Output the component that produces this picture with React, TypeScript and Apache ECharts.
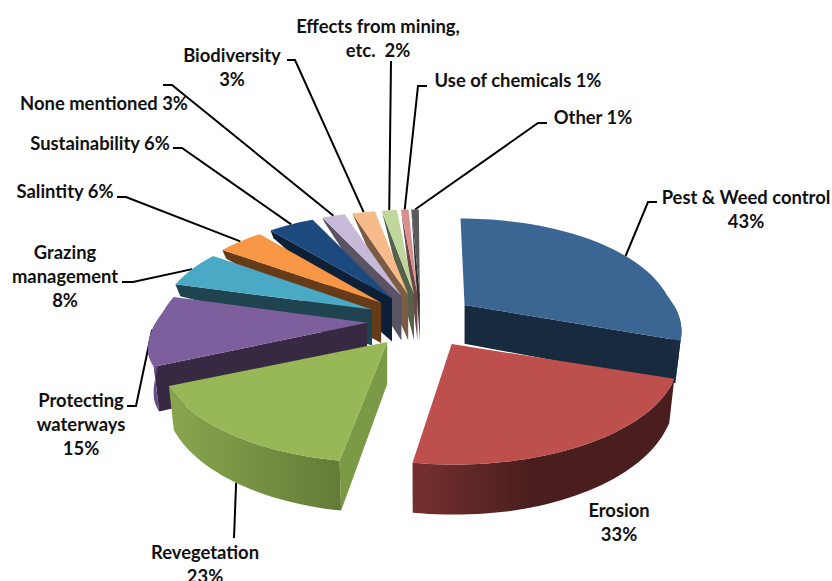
import React, { useEffect, useRef } from "react";
import * as echarts from "echarts";

// Survey responses, in clockwise order from twelve o'clock
const categories = [
  "Pest & Weed control", "Erosion", "Revegetation", "Protecting waterways",
  "Grazing management", "Salintity", "Sustainability", "None mentioned",
  "Biodiversity", "Effects from mining, etc.", "Use of chemicals", "Other",
];
const values = [43, 33, 23, 15, 8, 6, 6, 3, 3, 2, 1, 1];
const labelTemplates = [
  "Pest & Weed control\n{v}%", "Erosion\n{v}%", "Revegetation\n{v}%", "Protecting\nwaterways\n{v}%",
  "Grazing\nmanagement\n{v}%", "Salintity {v}%", "Sustainability {v}%", "None mentioned {v}%",
  "Biodiversity\n{v}%", "Effects from mining,\netc.  {v}%", "Use of chemicals {v}%", "Other {v}%",
];

// Slice colours: top face, cut face, outer wall gradient (left, right)
const topColors = ["#3b6593", "#bd4f4c", "#98b857", "#7d5f9e", "#4aa9c5", "#f79644", "#1d4a7e", "#c6bad8", "#f7bb8a", "#c0d69c", "#d88f8e", "#5a5a5a"];
const cutColors = ["#182a3e", "#4d2020", "#7a9a46", "#382942", "#1f444f", "#683b18", "#0c2138", "#5a5363", "#7b5b43", "#55614a", "#6e4746", "#2d2d2d"];
const wallLeft = ["#1b2f45", "#75302e", "#89a64e", "#75589a", "#1f444f", "#683b18", "#0c2138", "#5a5363", "#7b5b43", "#55614a", "#6e4746", "#2d2d2d"];
const wallRight = ["#182a3e", "#4a1e1e", "#627c38", "#5c4680", "#1f444f", "#683b18", "#0c2138", "#5a5363", "#7b5b43", "#55614a", "#6e4746", "#2d2d2d"];

// Label anchors (centre of the first line) and leader elbows
const labelAnchors = [
  [746, 197], [619, 510], [205, 552], [81, 400], [65, 252], [65, 191],
  [100, 143], [104, 103], [232, 55], [378, 26], [518, 80], [593, 117],
];
const leaderElbows: number[][][] = [
  [[657, 202], [648, 202]], [], [[234, 538]], [[127, 406], [136, 406]],
  [[122, 282], [133, 282]], [[117, 197], [126, 197]], [[173, 148], [182, 148]],
  [[163, 85], [172, 85]], [[287, 60], [295, 60]], [[391, 61]],
  [[427, 86], [418, 86]], [[547, 123], [538, 123]],
];
// Leaders meet the rim at the slice's middle, give or take these degrees
const leaderAngleOffsets = [5, 0, 0, 0, 0, 0, 0, 0, 0, 0, 0, 0];

// Projection of the tilted pie onto the page
const CX = 421;
const CY = 321;
const EXPLODE = 54;
const TILT = 0.5;
const TO_RAD = Math.PI / 180;
// Wall height of the outer rim against the page y of its top edge
const RIM_DEPTH = [[205, 1], [231, 8], [251, 9], [285, 12], [336, 42], [363, 45], [385, 44], [461, 50], [520, 50]];

const total = values.reduce((a, b) => a + b, 0);
const startAngles = values.map((_, i) => (values.slice(0, i).reduce((a, b) => a + b, 0) / total) * 360);
const endAngles = startAngles.map((s, i) => s + (values[i] / total) * 360);
const midAngles = startAngles.map((s, i) => (s + endAngles[i]) / 2);
// Back slices are painted first so the nearer ones overlap them
const paintOrder = values.map((_, i) => i).sort((a, b) => Math.cos(midAngles[b] * TO_RAD) - Math.cos(midAngles[a] * TO_RAD));

const radiusAt = (deg: number) => {
  const c = Math.cos(deg * TO_RAD);
  const s = Math.sin(deg * TO_RAD);
  const side = Math.min(1, Math.max(0, (0.1 - c) / 0.4));
  return 208 - 33 * c + 11 * side * s * s + (s > 0 ? 3 * s * s : 0);
};
const apexOf = (i: number) => {
  const m = midAngles[i] * TO_RAD;
  const c = Math.cos(m);
  const s = Math.sin(m);
  const nudge = c < 0 && s > 0 ? -6 * c * s : 0;
  return [CX + EXPLODE * s + nudge, CY - EXPLODE * TILT * c];
};
// Perspective pushes the rim of front slices outward and pulls back ones in
const rimShift = (i: number) => {
  const m = midAngles[i] * TO_RAD;
  const c = Math.cos(m);
  const s = Math.sin(m);
  if (c < 0) return [-12 * s * c - (s > 0 ? -6 * c * s : 0), 0];
  return [-4 * Math.min(1, c * 2.5) * Math.min(1, Math.abs(s) * 2 + 0.2), 3 * c * c];
};
const rimPoint = (i: number, deg: number) => {
  const a = apexOf(i);
  const shift = rimShift(i);
  const r = radiusAt(deg);
  return [a[0] + shift[0] + r * Math.sin(deg * TO_RAD), a[1] + shift[1] - r * TILT * Math.cos(deg * TO_RAD)];
};
const rimDepth = (y: number) => {
  for (let k = 1; k < RIM_DEPTH.length; k++) {
    if (y <= RIM_DEPTH[k][0]) {
      const [y0, d0] = RIM_DEPTH[k - 1];
      const [y1, d1] = RIM_DEPTH[k];
      return d0 + ((d1 - d0) * Math.max(0, y - y0)) / (y1 - y0);
    }
  }
  return 50;
};
const apexDepth = (i: number) => {
  const c = Math.cos(midAngles[i] * TO_RAD);
  return c > 0.3 ? 28 + 18 * c : 42;
};
const dropRim = (p: number[]) => [p[0] - 0.02 * (p[0] - CX), p[1] + rimDepth(p[1])];
const arcSamples = (i: number, from: number, to: number) => {
  const steps = Math.max(2, Math.ceil((to - from) / 2));
  const pts: number[][] = [];
  for (let k = 0; k <= steps; k++) pts.push(rimPoint(i, from + ((to - from) * k) / steps));
  return pts;
};

const cutFace = (i: number, deg: number) => {
  const a = apexOf(i);
  const p = rimPoint(i, deg);
  return {
    type: "polygon",
    shape: { points: [a, p, dropRim(p), [a[0], a[1] + apexDepth(i)]] },
    style: { fill: cutColors[i] },
  };
};

const renderSlice = (params: any) => {
  const i = paintOrder[params.dataIndex];
  const s = startAngles[i];
  const e = endAngles[i];
  const children: any[] = [];
  if (Math.sin(s * TO_RAD) < -1e-6) children.push(cutFace(i, s));
  if (Math.sin(e * TO_RAD) > 1e-6) children.push(cutFace(i, e));
  // The rim is only seen where it faces the front of the pie
  const wallFrom = Math.max(s, 90);
  const wallTo = Math.min(e, 270);
  if (wallTo > wallFrom) {
    const top = arcSamples(i, wallFrom, wallTo);
    children.push({
      type: "polygon",
      shape: { points: [...top, ...top.map(dropRim).reverse()] },
      style: {
        fill: {
          type: "linear", x: 0, y: 0, x2: 1, y2: 0,
          colorStops: i === 1
            ? [{ offset: 0, color: wallLeft[i] }, { offset: 0.45, color: wallRight[i] }, { offset: 1, color: wallRight[i] }]
            : [{ offset: 0, color: wallLeft[i] }, { offset: 1, color: wallRight[i] }],
        },
      },
    });
  }
  children.push({
    type: "polygon",
    shape: { points: [apexOf(i), ...arcSamples(i, s, e)] },
    style: { fill: topColors[i] },
  });
  return { type: "group", children };
};

// Leaders run from the elbow to the slice's rim
const leaderEnd = (i: number) => {
  const p = rimPoint(i, midAngles[i] + leaderAngleOffsets[i]);
  const front = Math.cos(midAngles[i] * TO_RAD) < -0.5;
  return front ? dropRim(p) : p;
};

const labelFont = { fontFamily: "Lato", fontWeight: "bold" as const, fontSize: 18.4, lineHeight: 24 };

export default function App() {
  const ref = useRef<HTMLDivElement>(null);
  useEffect(() => {
    document.body.style.margin = "0";
    const chart = echarts.init(ref.current!, undefined, { renderer: "svg" });
    const leaders = values.flatMap((_, i) =>
      leaderElbows[i].length
        ? [{
            type: "polyline",
            silent: true,
            shape: { points: [...leaderElbows[i], leaderEnd(i)] },
            style: { stroke: "#000", lineWidth: 2, fill: "none" },
          }]
        : []
    );
    const labels = values.map((v, i) => ({
      type: "text",
      silent: true,
      x: labelAnchors[i][0],
      y: labelAnchors[i][1] - 12,
      style: {
        text: labelTemplates[i].replace("{v}", String(v)),
        ...labelFont,
        fill: "#111",
        align: "center",
        verticalAlign: "top",
      },
    }));
    chart.setOption({
      animation: false,
      backgroundColor: "#fff",
      series: [{
        type: "custom",
        name: "Issues mentioned",
        coordinateSystem: "none",
        renderItem: renderSlice,
        data: paintOrder.map((i) => ({ name: categories[i], value: values[i] })),
        silent: true,
      }],
      graphic: [...leaders, ...labels],
    });
    return () => chart.dispose();
  }, []);
  return <div ref={ref} style={{ width: 832, height: 581 }} />;
}
